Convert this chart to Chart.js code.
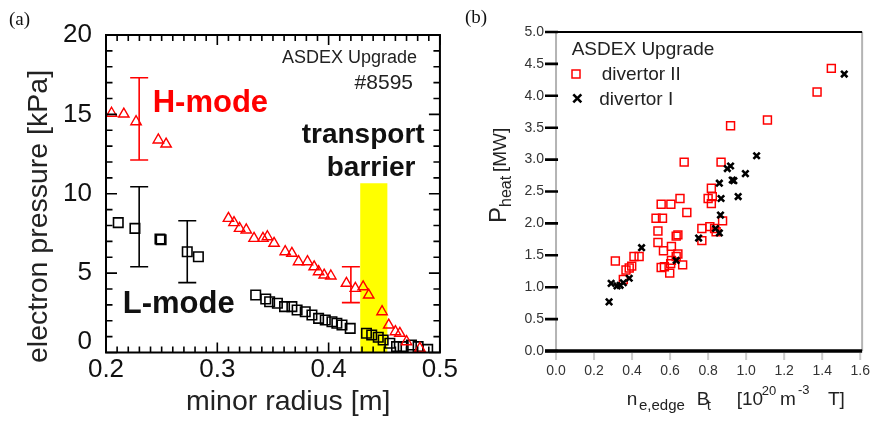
<!DOCTYPE html>
<html><head><meta charset="utf-8">
<script src="https://cdn.jsdelivr.net/npm/chart.js"></script>
<style>
html,body{margin:0;padding:0;background:#fff;width:882px;height:421px;overflow:hidden}
canvas{position:absolute;top:0}
#ca{left:0}
#cb{left:460px}
</style></head><body>
<canvas id="ca" width="460" height="421"></canvas>
<canvas id="cb" width="422" height="421"></canvas>
<script>
// ---------- Panel (a): electron pressure profiles ----------
const xTicksA = [0.2, 0.3, 0.4, 0.5];
const yTicksA = [0, 5, 10, 15, 20];
const hModeR = [0.205,0.216,0.227,0.247,0.254,0.310,0.315,0.320,0.326,0.333,0.341,0.345,0.351,0.361,0.367,0.373,0.381,0.387,0.391,0.396,0.402,0.416,0.424,0.431,0.436,0.448,0.454,0.460,0.464,0.470,0.482];
const hModeP = [15.07,15.02,14.54,13.39,13.13,8.45,8.18,7.82,7.72,7.19,7.19,7.29,6.88,6.35,6.25,5.72,5.72,5.40,5.09,4.88,4.82,4.36,4.04,4.14,3.62,2.57,1.73,1.31,1.21,0.68,0.26];
const lModeR = [0.211,0.226,0.2485,0.2495,0.273,0.283,0.3345,0.3435,0.347,0.354,0.3604,0.367,0.3717,0.379,0.385,0.391,0.397,0.403,0.4074,0.412,0.4194,0.434,0.4387,0.4446,0.449,0.455,0.461,0.467,0.4744,0.4804,0.489];
const lModeP = [8.18,7.82,7.15,7.10,6.35,6.03,3.62,3.37,3.20,3.10,2.89,2.89,2.68,2.57,2.36,2.15,2.05,1.94,1.84,1.73,1.52,1.21,1.10,0.96,0.79,0.58,0.37,0.37,0.47,0.37,0.20];
const hErrR = [0.2298, 0.420], hErrLow = [12.13, 3.14], hErrHigh = [17.31, 5.40];
const lErrR = [0.2298, 0.273], lErrLow = [5.40, 4.40], lErrHigh = [10.44, 8.30];
const barrierR = [0.4283, 0.453];
const barrierTop = 10.66;

// ---------- Panel (b): heating power vs n_e,edge B_t ----------
const xTicksB = [0, 0.2, 0.4, 0.6, 0.8, 1.0, 1.2, 1.4, 1.6];
const yTicksB = [0, 0.5, 1.0, 1.5, 2.0, 2.5, 3.0, 3.5, 4.0, 4.5, 5.0];
const div2X = [0.312,0.354,0.368,0.385,0.398,0.410,0.437,
  0.526,0.560,0.553,0.604,0.652,0.688,0.536,0.536,0.565,0.607,0.632,0.641,0.641,0.607,0.553,0.570,0.598,0.603,0.666,0.632,0.674,
  0.767,0.767,0.809,0.834,0.842,0.876,0.800,0.822,0.817,0.817,0.868,0.918,1.112,1.373,1.448];
const div2Y = [1.41,1.12,1.27,1.30,1.33,1.48,1.48,
  2.08,2.08,2.30,2.30,2.39,2.17,1.88,1.70,1.57,1.64,1.80,1.82,1.52,1.42,1.31,1.32,1.22,1.37,1.35,1.48,2.96,
  1.92,1.73,1.95,1.92,1.87,2.04,2.39,2.42,2.31,2.55,2.96,3.53,3.62,4.06,4.43];
const div1X = [0.279,0.290,0.321,0.337,0.354,0.385,0.450,0.632,0.750,0.859,0.868,0.865,0.859,0.839,0.901,0.918,0.935,0.927,0.958,0.996,1.055,1.516];
const div1Y = [0.77,1.06,1.02,1.03,1.07,1.14,1.62,1.42,1.77,2.63,2.39,2.13,1.85,1.92,2.86,2.90,2.67,2.68,2.42,2.78,3.06,4.34];

const SANS = "'Liberation Sans', Arial, Helvetica, sans-serif";
const SERIF = "'Liberation Serif', 'Times New Roman', serif";
const pts = (xs, ys) => xs.map((x, i) => ({x: x, y: ys[i]}));
const CLEAR = 'rgba(0,0,0,0)';

function txt(ctx, s, x, y, font, color, align) {
  ctx.font = font; ctx.fillStyle = color || '#000';
  ctx.textAlign = align || 'left'; ctx.textBaseline = 'alphabetic';
  ctx.fillText(s, x, y);
}

function errDataset(x, lo, hi, color) {
  return {type: 'scatter', showLine: true, data: [{x: x, y: lo}, {x: x, y: hi}],
    borderColor: color, borderWidth: 1.6, pointStyle: 'line', pointRadius: 9,
    pointBorderColor: color, pointBorderWidth: 1.6, backgroundColor: CLEAR, order: 1};
}

const plugA = {
  id: 'pa',
  afterDraw(c) {
    const ctx = c.ctx, a = c.chartArea, xs = c.scales.x, ys = c.scales.y;
    ctx.save();
    ctx.strokeStyle = '#000'; ctx.lineWidth = 1.6;
    ctx.beginPath();
    for (let k = 0; k <= 20; k++) {
      const y = ys.getPixelForValue(k), L = (k % 5 === 0) ? 11 : 6.5;
      ctx.moveTo(a.left, y); ctx.lineTo(a.left + L, y);
      ctx.moveTo(a.right, y); ctx.lineTo(a.right - L, y);
    }
    for (let k = 20; k <= 50; k++) {
      const x = xs.getPixelForValue(k / 100), L = (k % 10 === 0) ? 10 : 6;
      ctx.moveTo(x, a.bottom); ctx.lineTo(x, a.bottom - L);
      ctx.moveTo(x, a.top); ctx.lineTo(x, a.top + L);
    }
    ctx.stroke();
    ctx.lineWidth = 2;
    ctx.strokeRect(a.left, a.top, a.right - a.left, a.bottom - a.top);

    txt(ctx, '(a)', 9, 25, '19px ' + SERIF, '#111');
    txt(ctx, 'ASDEX Upgrade', 417, 63, '18px ' + SANS, '#222', 'right');
    txt(ctx, '#8595', 413, 89, '21px ' + SANS, '#222', 'right');
    txt(ctx, 'H-mode', 152.7, 111.7, 'bold 31px ' + SANS, '#ff0000');
    txt(ctx, 'L-mode', 122.7, 313, 'bold 31px ' + SANS, '#111');
    txt(ctx, 'transport', 301.7, 143, 'bold 28px ' + SANS, '#111');
    txt(ctx, 'barrier', 326.7, 176, 'bold 28px ' + SANS, '#111');
    txt(ctx, 'minor radius [m]', 186, 410, '28.5px ' + SANS, '#222');
    ctx.save();
    ctx.translate(46.5, 0); ctx.rotate(-Math.PI / 2);
    txt(ctx, 'electron pressure [kPa]', -363, 0, '28.5px ' + SANS, '#222');
    ctx.restore();
    ctx.restore();
  }
};

new Chart(document.getElementById('ca'), {
  type: 'scatter',
  data: {datasets: [
    {label: 'H-mode', data: pts(hModeR, hModeP), pointStyle: 'triangle', pointRadius: 6,
      borderColor: '#ff0000', backgroundColor: CLEAR, borderWidth: 1.4, order: 0},
    {label: 'L-mode', data: pts(lModeR, lModeP), pointStyle: 'rect', pointRadius: 6.7,
      borderColor: '#000', backgroundColor: CLEAR, borderWidth: 1.6, order: 0},
    errDataset(hErrR[0], hErrLow[0], hErrHigh[0], '#ff0000'),
    errDataset(hErrR[1], hErrLow[1], hErrHigh[1], '#ff0000'),
    errDataset(lErrR[0], lErrLow[0], lErrHigh[0], '#000'),
    errDataset(lErrR[1], lErrLow[1], lErrHigh[1], '#000'),
    {type: 'line', label: 'transport barrier', data: pts(barrierR, [barrierTop, barrierTop]),
      fill: 'origin', backgroundColor: '#ffff00', borderColor: CLEAR, borderWidth: 0, pointRadius: 0, order: 10}
  ]},
  options: {
    responsive: false, animation: false, devicePixelRatio: 1,
    layout: {padding: {left: 0, top: 35, right: 18, bottom: 0}},
    plugins: {legend: {display: false}, tooltip: {enabled: false}},
    scales: {
      x: {type: 'linear', min: 0.2, max: 0.5,
        grid: {display: false, drawTicks: false}, border: {display: false},
        afterBuildTicks: s => { s.ticks = xTicksA.map(v => ({value: v})); },
        ticks: {font: {size: 26, family: SANS}, color: '#111', padding: 2, maxRotation: 0, autoSkip: false,
          callback: v => v.toFixed(1)},
        afterFit: s => { s.height = 68.5; }},
      y: {type: 'linear', min: 0, max: 20,
        grid: {display: false, drawTicks: false}, border: {display: false},
        afterBuildTicks: s => { s.ticks = yTicksA.map(v => ({value: v})); },
        ticks: {font: {size: 26, family: SANS, lineHeight: 0.8}, color: '#111', padding: 14, autoSkip: false,
          callback: v => v === 0 ? ['0', ''] : String(v)},
        afterFit: s => { s.width = 106; }}
    }
  },
  plugins: [plugA]
});

const plugB = {
  id: 'pb',
  beforeDatasetsDraw(c) {
    const ctx = c.ctx, a = c.chartArea, xs = c.scales.x;
    ctx.save();
    const x0 = xs.getPixelForValue(0);
    ctx.strokeStyle = '#b4b4b4'; ctx.lineWidth = 2;
    ctx.beginPath();
    ctx.moveTo(x0, a.top); ctx.lineTo(x0, a.bottom);
    ctx.moveTo(a.right, a.top); ctx.lineTo(a.right, a.bottom);
    ctx.stroke();
    ctx.strokeStyle = '#cccccc'; ctx.lineWidth = 2;
    ctx.beginPath();
    xTicksB.forEach(v => { const x = xs.getPixelForValue(v); ctx.moveTo(x, a.bottom + 2); ctx.lineTo(x, a.bottom + 9); });
    ctx.stroke();
    ctx.restore();
  },
  afterDraw(c) {
    const ctx = c.ctx, a = c.chartArea, xs = c.scales.x, ys = c.scales.y;
    ctx.save();
    const x0 = xs.getPixelForValue(0);
    ctx.strokeStyle = '#000';
    ctx.lineWidth = 2.6;
    ctx.beginPath();
    yTicksB.forEach(v => { const y = ys.getPixelForValue(v); ctx.moveTo(a.left, y); ctx.lineTo(x0 + 2, y); });
    ctx.stroke();
    ctx.lineWidth = 2;
    ctx.beginPath(); ctx.moveTo(a.left, a.top); ctx.lineTo(a.right, a.top); ctx.stroke();
    ctx.lineWidth = 3.5;
    ctx.beginPath(); ctx.moveTo(a.left, a.bottom); ctx.lineTo(a.right, a.bottom); ctx.stroke();

    // panel letter and legend (canvas b starts at page x = 460)
    txt(ctx, '(b)', 5, 23, '19px ' + SERIF, '#111');
    txt(ctx, 'ASDEX Upgrade', 111.7, 55, '19px ' + SANS, '#222');
    ctx.strokeStyle = '#ff0000'; ctx.lineWidth = 1.5;
    ctx.strokeRect(112, 70, 8, 8);
    txt(ctx, 'divertor II', 141.7, 80, '19px ' + SANS, '#222');
    ctx.strokeStyle = '#000'; ctx.lineWidth = 2.6;
    ctx.beginPath();
    ctx.moveTo(113.3, 94.3); ctx.lineTo(121.3, 102.3);
    ctx.moveTo(121.3, 94.3); ctx.lineTo(113.3, 102.3);
    ctx.stroke();
    txt(ctx, 'divertor I', 139.3, 104.5, '19px ' + SANS, '#222');

    // y title: P_heat [MW]
    ctx.save();
    ctx.translate(46, 0); ctx.rotate(-Math.PI / 2);
    txt(ctx, 'P', -223, 0, '24px ' + SANS, '#222');
    txt(ctx, 'heat', -207, 5, '16px ' + SANS, '#222');
    txt(ctx, '[MW]', -172, 0, '19px ' + SANS, '#222');
    ctx.restore();

    // x title: n_e,edge B_t  [10^20 m^-3  T]
    const f = '19px ' + SANS, fs = '15px ' + SANS, fp = '13px ' + SANS;
    txt(ctx, 'n', 166.7, 405, f, '#222');
    txt(ctx, 'e,edge', 179, 410, fs, '#222');
    txt(ctx, 'B', 236.7, 405, f, '#222');
    txt(ctx, 't', 246.7, 410, fs, '#222');
    txt(ctx, '[10', 276.7, 405, f, '#222');
    txt(ctx, '20', 301.7, 395, fp, '#222');
    txt(ctx, 'm', 320, 405, f, '#222');
    txt(ctx, '-3', 338, 394, fp, '#222');
    txt(ctx, 'T]', 368, 405, f, '#222');
    ctx.restore();
  }
};

new Chart(document.getElementById('cb'), {
  type: 'scatter',
  data: {datasets: [
    {label: 'divertor I', data: pts(div1X, div1Y), pointStyle: 'crossRot', pointRadius: 4.5,
      borderColor: '#000', backgroundColor: '#000', borderWidth: 2.6},
    {label: 'divertor II', data: pts(div2X, div2Y), pointStyle: 'rect', pointRadius: 5.6,
      borderColor: '#ff0000', backgroundColor: CLEAR, borderWidth: 1.5}
  ]},
  options: {
    responsive: false, animation: false, devicePixelRatio: 1,
    layout: {padding: {left: 0, top: 32, right: 7, bottom: 0}},
    plugins: {legend: {display: false}, tooltip: {enabled: false}},
    scales: {
      x: {type: 'linear', min: -0.058, max: 1.61,
        grid: {display: false, drawTicks: false}, border: {display: false},
        afterBuildTicks: s => { s.ticks = xTicksB.map(v => ({value: v})); },
        ticks: {font: {size: 14, family: SANS}, color: '#333', padding: 12, maxRotation: 0, autoSkip: false,
          callback: v => v.toFixed(1)},
        afterFit: s => { s.height = 70; }},
      y: {type: 'linear', min: 0, max: 5,
        grid: {display: false, drawTicks: false}, border: {display: false},
        afterBuildTicks: s => { s.ticks = yTicksB.map(v => ({value: v})); },
        ticks: {font: {size: 14, family: SANS}, color: '#333', padding: 1, autoSkip: false,
          callback: v => v.toFixed(1)},
        afterFit: s => { s.width = 85; }}
    }
  },
  plugins: [plugB]
});
</script>
</body></html>
